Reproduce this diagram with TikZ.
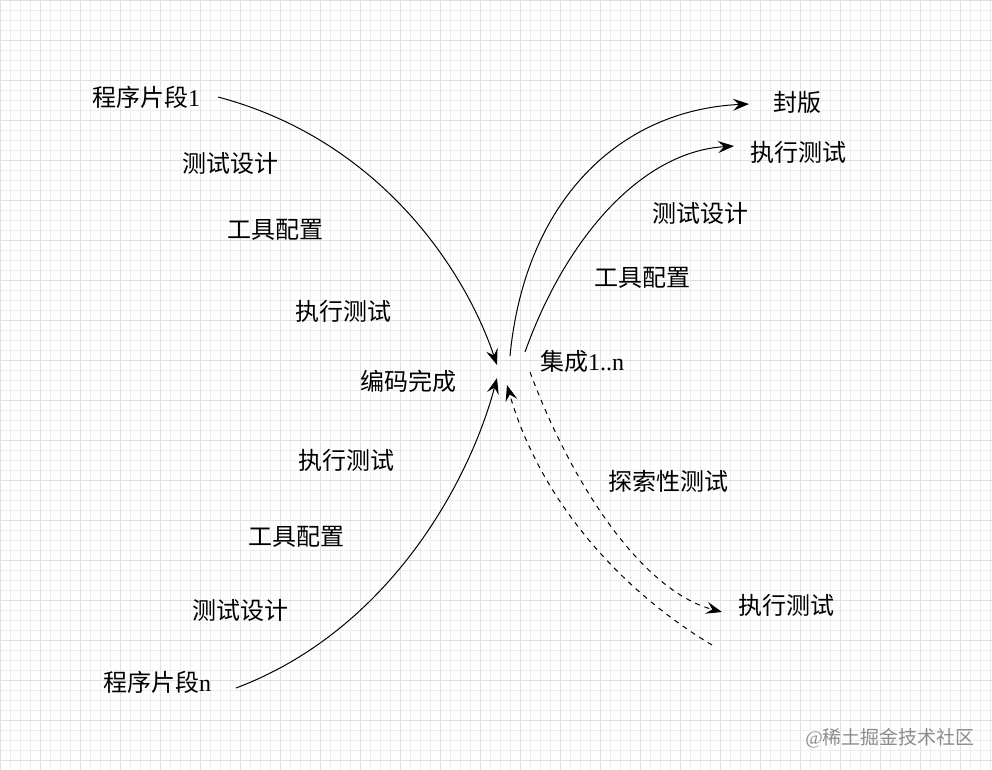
\documentclass[tikz,border=0pt]{standalone}
\usepackage{fontspec}
\setmainfont{Liberation Serif}
\newfontfamily\cjk{Noto Sans CJK SC}
\usetikzlibrary{arrows.meta}
\tikzset{
  lbl/.style={font=\fontsize{24}{28}\selectfont, inner sep=0pt},
  flow/.style={line width=1pt, -{Stealth[length=16pt,width=12pt,inset=6pt]}},
  flowdash/.style={flow, dashed, dash pattern=on 5pt off 5pt}
}
\begin{document}
\begin{tikzpicture}[x=1pt,y=-1pt]
  \useasboundingbox (0,0) rectangle (992,770);
  \fill[white] (0,0) rectangle (992,770);
  \draw[black!7, step=10pt] (0,0) grid (992,770);
  \draw[black!12, step=40pt] (0,0) grid (992,770);

  % left side
  \node[lbl] (p1) at (146,97) {{\cjk 程序片段}1};
  \node[lbl] (l1) at (230,163) {\cjk 测试设计};
  \node[lbl] (l2) at (275,230) {\cjk 工具配置};
  \node[lbl] (l3) at (343,311) {\cjk 执行测试};
  \node[lbl] (done) at (408,381) {\cjk 编码完成};
  \node[lbl] (l4) at (346,460) {\cjk 执行测试};
  \node[lbl] (l5) at (296,537) {\cjk 工具配置};
  \node[lbl] (l6) at (240,610) {\cjk 测试设计};
  \node[lbl] (pn) at (157,682) {{\cjk 程序片段}n};

  % right side
  \node[lbl] (seal) at (797,102) {\cjk 封版};
  \node[lbl] (r1) at (798,152) {\cjk 执行测试};
  \node[lbl] (r2) at (700,213) {\cjk 测试设计};
  \node[lbl] (r3) at (642,278) {\cjk 工具配置};
  \node[lbl] (int) at (582,361) {{\cjk 集成}1..n};
  \node[lbl] (r4) at (668,481) {\cjk 探索性测试};
  \node[lbl] (r5) at (786,605) {\cjk 执行测试};

  \coordinate (c1) at (497,365);
  \coordinate (c2) at (497,378);
  \coordinate (s1) at (218,97);
  \coordinate (sn) at (236,688);
  \coordinate (s3) at (510,356);
  \coordinate (e3) at (749,104);
  \coordinate (s4) at (525,352);
  \coordinate (e4) at (734,146);
  \coordinate (s5) at (530,372);
  \coordinate (e5) at (722,612);
  \coordinate (s6) at (712,645);
  \coordinate (e6) at (507,385);

  \draw[flow] (s1) .. controls (380,140) and (465,270) .. (c1);
  \draw[flow] (sn) .. controls (390,630) and (470,480) .. (c2);
  \draw[flow] (s3) .. controls (525,200) and (620,110) .. (e3);
  \draw[flow] (s4) .. controls (565,240) and (640,152) .. (e4);
  \draw[flowdash] (s5) .. controls (570,480) and (640,590) .. (e5);
  \draw[flowdash] (s6) .. controls (620,590) and (540,500) .. (e6);

  \node[lbl, text=black!45, font=\fontsize{19}{22}\selectfont] (wm) at (890,738) {@{\cjk 稀土掘金技术社区}};
\end{tikzpicture}
\end{document}
